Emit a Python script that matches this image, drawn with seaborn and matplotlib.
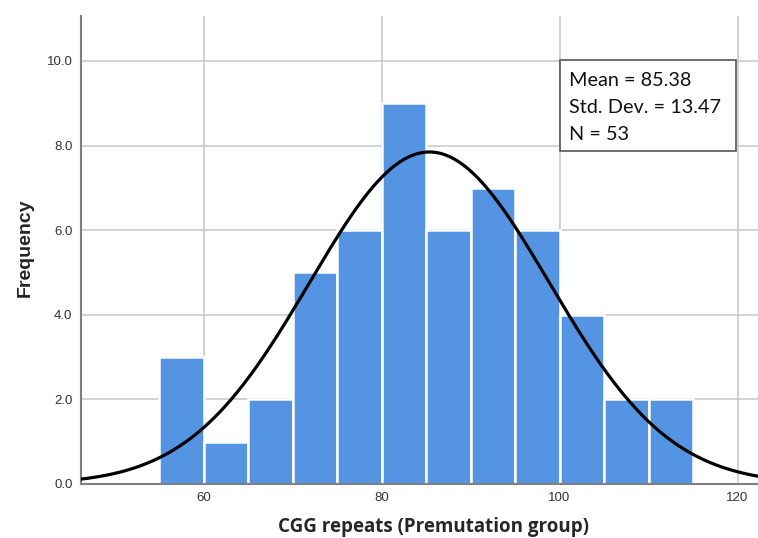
import numpy as np
import pandas as pd
import seaborn as sns
import matplotlib.pyplot as plt
from matplotlib.patches import Rectangle

# histogram bins (CGG repeats) and counts
bin_left = [55, 60, 65, 70, 75, 80, 85, 90, 95, 100, 105, 110]
counts = [3, 1, 2, 5, 6, 9, 6, 7, 6, 4, 2, 2]
bin_width = 5

# summary stats shown in the box
mean_val = 85.38
sd_val = 13.47
n_val = 53

y_ticks = [0, 2, 4, 6, 8, 10]
x_ticks = [60, 80, 100, 120]

df = pd.DataFrame({"cgg": [b + bin_width / 2 for b in bin_left], "count": counts})

# fitted normal curve scaled to the histogram
xs = np.linspace(46, 123, 300)
ys = n_val * bin_width / (sd_val * np.sqrt(2 * np.pi)) * np.exp(-0.5 * ((xs - mean_val) / sd_val) ** 2)
curve = pd.DataFrame({"x": xs, "y": ys})

sns.set_theme(style="white")
plt.rcParams['font.family'] = ['Liberation Sans', 'DejaVu Sans']

fig = plt.figure(figsize=(7.58, 5.38), dpi=100)
ax = fig.add_axes([0.1065, 0.1004, 0.8935, 0.8696])

edges = bin_left + [bin_left[-1] + bin_width]
sns.histplot(data=df, x="cgg", weights="count", bins=edges, ax=ax,
             color="#5594e3", edgecolor="white", linewidth=1.8, alpha=1, zorder=2)
sns.lineplot(data=curve, x="x", y="y", ax=ax, color="black", linewidth=2.3, zorder=3)

ax.set_xlim(46.2, 122.3)
ax.set_ylim(0, 11.06)
ax.set_xticks(x_ticks)
ax.set_yticks(y_ticks)
ax.set_yticklabels([f"{v:.1f}" for v in y_ticks])
ax.tick_params(axis="both", labelsize=9.5, labelcolor="#333333", length=0, pad=6)
ax.grid(True, color="#c8c8c8", linewidth=1.1, zorder=0)
ax.set_axisbelow(True)

for s in ["top", "right"]:
    ax.spines[s].set_visible(False)
for s in ["left", "bottom"]:
    ax.spines[s].set_color("#808080")
    ax.spines[s].set_linewidth(1.5)

ax.set_xlabel("CGG repeats (Premutation group)", fontsize=13.5, fontweight="bold",
              family=["Open Sans", "DejaVu Sans"], va="baseline")
ax.xaxis.set_label_coords(0.5215, -0.1026)
ax.set_ylabel("Frequency", fontsize=14, fontweight="bold")
ax.yaxis.set_label_coords(-0.070, 0.505)

# stats box
ax.add_patch(Rectangle((0.7077, 0.7115), 0.2598, 0.1945, transform=ax.transAxes,
                       facecolor="white", edgecolor="#555555", linewidth=1.2, zorder=5))
box_lines = [f"Mean = {mean_val:.2f}", f"Std. Dev. = {sd_val:.2f}", f"N = {n_val}"]
for line, yb in zip(box_lines, [0.851, 0.7935, 0.735]):
    ax.text(0.721, yb, line, transform=ax.transAxes, ha="left", va="baseline",
            fontsize=14.3, family=["Lato", "DejaVu Sans"], color="#111111", zorder=6)

fig.savefig("out.png", dpi=100)
